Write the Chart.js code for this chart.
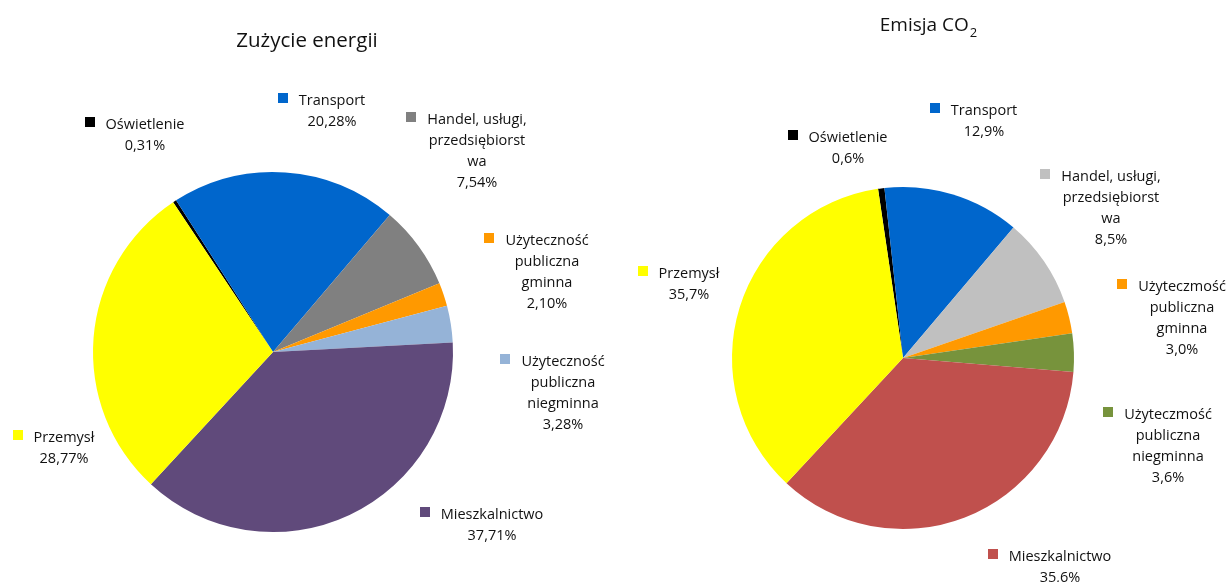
<!DOCTYPE html>
<html lang="pl">
<head>
<meta charset="utf-8">
<title>Zużycie energii i emisja CO2</title>
<script src="https://cdn.jsdelivr.net/npm/chart.js@4/dist/chart.umd.min.js"></script>
<style>
  html, body { margin: 0; padding: 0; background: #fff; }
  #wrap { position: relative; width: 1232px; height: 582px; overflow: hidden; }
  canvas { position: absolute; top: 0; }
  #c-energy { left: 0; }
  #c-co2 { left: 616px; }
</style>
</head>
<body>
<div id="wrap">
  <canvas id="c-energy" width="616" height="582"></canvas>
  <canvas id="c-co2" width="616" height="582"></canvas>
</div>
<script>
// --- dane ---
const energyCategories = [
  ['Oświetlenie'],
  ['Transport'],
  ['Handel, usługi,', 'przedsiębiorst', 'wa'],
  ['Użyteczność', 'publiczna', 'gminna'],
  ['Użyteczność', 'publiczna', 'niegminna'],
  ['Mieszkalnictwo'],
  ['Przemysł']
];
const energyValues = [0.31, 20.28, 7.54, 2.10, 3.28, 37.71, 28.77];

const co2Categories = [
  ['Oświetlenie'],
  ['Transport'],
  ['Handel, usługi,', 'przedsiębiorst', 'wa'],
  ['Użyteczmość', 'publiczna', 'gminna'],
  ['Użyteczmość', 'publiczna', 'niegminna'],
  ['Mieszkalnictwo'],
  ['Przemysł']
];
const co2Values = [0.6, 12.9, 8.5, 3.0, 3.6, 35.6, 35.7];

// --- wygląd ---
const energyColors = ['#000000', '#0066CC', '#808080', '#FF9900', '#95B3D7', '#604A7B', '#FFFF00'];
const co2Colors    = ['#000000', '#0066CC', '#C0C0C0', '#FF9900', '#77933C', '#C0504D', '#FFFF00'];

// etykiety: środek tekstu x, linia bazowa pierwszego wiersza y (współrzędne strony)
const energyLabelPos = [[145, 129], [332, 105], [477, 124], [547, 245], [563, 366], [492, 519], [64, 442]];
const co2LabelPos    = [[848, 142], [984, 115], [1111, 181], [1182, 291], [1168, 419], [1060, 561], [689, 278]];

const TEXT_COLOR = '#111111';
const LABEL_FONT = '14.5px "Open Sans", sans-serif';

const fmt = (dec) => (v) => v.toFixed(dec).replace('.', ',') + '%';

const sliceLabels = {
  id: 'sliceLabels',
  afterDraw(chart, args, o) {
    const ctx = chart.ctx;
    const ds = chart.data.datasets[0];
    ctx.save();
    ctx.font = LABEL_FONT;
    ctx.textAlign = 'center';
    ctx.textBaseline = 'alphabetic';
    chart.data.labels.forEach((lines, i) => {
      const x = o.positions[i][0] - o.offsetX;
      const y = o.positions[i][1];
      const rows = lines.concat([o.format(ds.data[i])]);
      ctx.fillStyle = TEXT_COLOR;
      rows.forEach((t, k) => ctx.fillText(t, x, y + k * 21));
      const w = ctx.measureText(lines[0]).width;
      ctx.fillStyle = ds.backgroundColor[i];
      ctx.fillRect(Math.round(x - w / 2 - 11 - 10), y - 12, 10, 10);
    });

    // tytuł
    ctx.fillStyle = TEXT_COLOR;
    const big = o.titleSize + 'px "Open Sans", sans-serif';
    const small = Math.round(o.titleSize * 0.68) + 'px "Open Sans", sans-serif';
    ctx.font = big;
    if (o.titleSub) {
      const mainW = ctx.measureText(o.title).width;
      ctx.font = small;
      const subW = ctx.measureText(o.titleSub).width;
      const left = o.titleX - o.offsetX - (mainW + subW) / 2;
      ctx.textAlign = 'left';
      ctx.font = big;
      ctx.fillText(o.title, left, o.titleY);
      ctx.font = small;
      ctx.fillText(o.titleSub, left + mainW + 1, o.titleY + 6);
    } else {
      ctx.fillText(o.title, o.titleX - o.offsetX, o.titleY);
    }
    ctx.restore();
  }
};

function makePie(id, labels, values, colors, rotation, geom, labelOpts) {
  const cv = document.getElementById(id);
  const pad = {
    left: geom.cx - geom.r,
    right: cv.width - (geom.cx + geom.r),
    top: geom.cy - geom.r,
    bottom: cv.height - (geom.cy + geom.r)
  };
  return new Chart(cv, {
    type: 'pie',
    data: {
      labels: labels,
      datasets: [{
        data: values,
        backgroundColor: colors,
        borderWidth: 0,
        hoverOffset: 0
      }]
    },
    options: {
      responsive: false,
      animation: false,
      events: [],
      rotation: rotation,
      layout: { padding: pad },
      plugins: {
        legend: { display: false },
        tooltip: { enabled: false },
        sliceLabels: labelOpts
      }
    },
    plugins: [sliceLabels]
  });
}

makePie('c-energy', energyCategories, energyValues, energyColors, -33.7,
  { cx: 273, cy: 352, r: 180 },
  { positions: energyLabelPos, offsetX: 0, format: fmt(2),
    title: 'Zużycie energii', titleSub: '', titleX: 307, titleY: 47, titleSize: 20.5 });

makePie('c-co2', co2Categories, co2Values, co2Colors, -8.4,
  { cx: 903 - 616, cy: 358, r: 171 },
  { positions: co2LabelPos, offsetX: 616, format: fmt(1),
    title: 'Emisja CO', titleSub: '2', titleX: 928, titleY: 31, titleSize: 19 });
</script>
</body>
</html>
